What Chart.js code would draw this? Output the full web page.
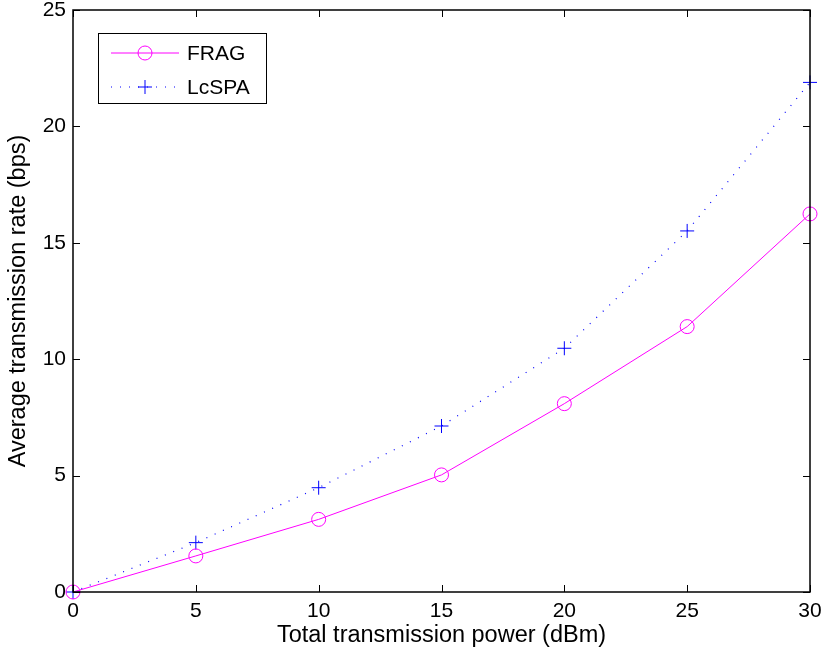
<!DOCTYPE html>
<html>
<head>
<meta charset="utf-8">
<script src="https://cdn.jsdelivr.net/npm/chart.js@4.4.0/dist/chart.umd.min.js"></script>
<style>
  html, body { margin: 0; padding: 0; background: #fff; }
  #wrap { width: 825px; height: 650px; }
</style>
</head>
<body>
<div id="wrap"><canvas id="chart" width="825" height="650"></canvas></div>
<script>
// Datos
const powerDbm = [0, 5, 10, 15, 20, 25, 30];
const fragRate = [0, 1.55, 3.12, 5.03, 8.09, 11.40, 16.24];
const lcspaRate = [0, 2.12, 4.48, 7.13, 10.47, 15.51, 21.89];
const xTicks = [0, 5, 10, 15, 20, 25, 30];
const yTicks = [0, 5, 10, 15, 20, 25];

const FONT = '"Liberation Sans", Arial, sans-serif';
const MAGENTA = '#ff00ff';
const BLUE = '#0000ff';

// Marco tipo MATLAB con marcas hacia dentro
const framePlugin = {
    id: 'frame',
    afterDatasetsDraw(chart) {
        const ctx = chart.ctx;
        const a = chart.chartArea;
        const xs = chart.scales.x;
        const ys = chart.scales.y;
        const len = 7;
        ctx.save();
        ctx.strokeStyle = '#000';
        ctx.lineWidth = 1;
        ctx.beginPath();
        xTicks.forEach(v => {
            const px = Math.round(xs.getPixelForValue(v)) + 0.5;
            ctx.moveTo(px, a.bottom); ctx.lineTo(px, a.bottom - len);
            ctx.moveTo(px, a.top); ctx.lineTo(px, a.top + len);
        });
        yTicks.forEach(v => {
            const py = Math.round(ys.getPixelForValue(v)) + 0.5;
            ctx.moveTo(a.left, py); ctx.lineTo(a.left + len, py);
            ctx.moveTo(a.right, py); ctx.lineTo(a.right - len, py);
        });
        ctx.stroke();
        ctx.lineWidth = 1.5;
        ctx.strokeRect(a.left, a.top, a.right - a.left, a.bottom - a.top);
        ctx.restore();
    },
    afterDraw(chart) {
        // Leyenda dentro del área
        const ctx = chart.ctx;
        const a = chart.chartArea;
        const bx = a.left + 25, by = a.top + 23, bw = 168, bh = 70;
        ctx.save();
        ctx.fillStyle = '#fff';
        ctx.fillRect(bx, by, bw, bh);
        ctx.strokeStyle = '#000';
        ctx.lineWidth = 1;
        ctx.strokeRect(bx + 0.5, by + 0.5, bw, bh);

        const rows = [
            { label: 'FRAG', color: MAGENTA, dash: [], marker: 'circle', y: by + 20 },
            { label: 'LcSPA', color: BLUE, dash: [1, 8], marker: 'cross', y: by + 54 }
        ];
        rows.forEach(r => {
            ctx.strokeStyle = r.color;
            ctx.lineWidth = 1;
            ctx.setLineDash(r.dash);
            ctx.beginPath();
            ctx.moveTo(bx + 13, r.y);
            ctx.lineTo(bx + 81, r.y);
            ctx.stroke();
            ctx.setLineDash([]);
            const mx = bx + 47;
            ctx.beginPath();
            if (r.marker === 'circle') {
                ctx.arc(mx, r.y, 7, 0, Math.PI * 2);
            } else {
                ctx.moveTo(mx - 7, r.y); ctx.lineTo(mx + 7, r.y);
                ctx.moveTo(mx, r.y - 7); ctx.lineTo(mx, r.y + 7);
            }
            ctx.stroke();
            ctx.fillStyle = '#000';
            ctx.font = '21px ' + FONT;
            ctx.textBaseline = 'middle';
            ctx.textAlign = 'left';
            ctx.fillText(r.label, bx + 89, r.y + 1);
        });
        ctx.restore();
    }
};

new Chart(document.getElementById('chart'), {
    type: 'line',
    data: {
        datasets: [
            {
                label: 'FRAG',
                data: powerDbm.map((x, i) => ({ x: x, y: fragRate[i] })),
                borderColor: MAGENTA,
                borderWidth: 1,
                pointStyle: 'circle',
                pointRadius: 7,
                pointBorderColor: MAGENTA,
                pointBackgroundColor: 'rgba(0,0,0,0)',
                pointBorderWidth: 1,
                tension: 0,
                clip: false
            },
            {
                label: 'LcSPA',
                data: powerDbm.map((x, i) => ({ x: x, y: lcspaRate[i] })),
                borderColor: BLUE,
                borderWidth: 1.2,
                borderDash: [1, 8],
                pointStyle: 'cross',
                pointRadius: 7,
                pointBorderColor: BLUE,
                pointBorderWidth: 1,
                tension: 0,
                clip: false
            }
        ]
    },
    options: {
        responsive: false,
        animation: false,
        layout: { padding: { top: 10, right: 15, left: 0, bottom: 0 } },
        plugins: {
            legend: { display: false },
            tooltip: { enabled: false }
        },
        scales: {
            x: {
                type: 'linear',
                min: 0, max: 30,
                afterBuildTicks: s => { s.ticks = xTicks.map(v => ({ value: v })); },
                grid: { display: false, drawTicks: false },
                border: { display: false },
                ticks: { color: '#000', font: { family: FONT, size: 21 }, padding: 7, maxRotation: 0 },
                title: { display: true, text: 'Total transmission power (dBm)', color: '#000', font: { family: FONT, size: 23.5 }, padding: { top: 0, bottom: 0 } },
                afterFit: s => { s.height = 58; s.paddingLeft = 0; s.paddingRight = 0; }
            },
            y: {
                type: 'linear',
                min: 0, max: 25,
                afterBuildTicks: s => { s.ticks = yTicks.map(v => ({ value: v })); },
                grid: { display: false, drawTicks: false },
                border: { display: false },
                ticks: { color: '#000', font: { family: FONT, size: 21 }, padding: 7 },
                title: { display: true, text: 'Average transmission rate (bps)', color: '#000', font: { family: FONT, size: 23.5 }, padding: { top: 4, bottom: 0 } },
                afterFit: s => { s.width = 73; s.paddingTop = 0; s.paddingBottom = 0; }
            }
        }
    },
    plugins: [framePlugin]
});
</script>
</body>
</html>
